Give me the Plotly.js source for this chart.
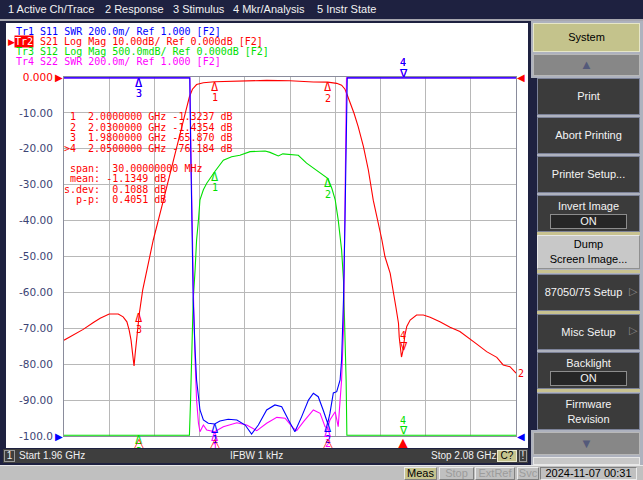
<!DOCTYPE html>
<html>
<head>
<meta charset="utf-8">
<script src="https://cdn.plot.ly/plotly-3.0.1.min.js"></script>
<style>
  body { margin:0; width:643px; height:480px; overflow:hidden; background:#c0c0c0;
         font-family:"Liberation Sans", Arial, sans-serif; font-size:11px; position:relative; }
  .a { position:absolute; box-sizing:border-box; }
  .top { z-index:2; }
  .hdr { color:#f2f2f2; font-size:11px; line-height:19px; top:0; }
  .btn { position:absolute; box-sizing:border-box; left:537px; width:103px; background:#3b3b3b; color:#f4f4f4;
         border:1px solid #7c8298; display:flex; flex-direction:column; align-items:center; justify-content:center;
         font-size:11px; line-height:15px; z-index:2; }
  .onbox { width:77px; height:15px; border:1px solid #8c8c8c; background:#262626; text-align:center; line-height:13px; box-sizing:border-box; }
  .sep { position:absolute; left:537px; width:103px; height:3px; background:#c8c290; z-index:2; }
  .arr { position:absolute; left:533px; width:107px; background:#878787; border:1px solid #b8b8b8; color:#545a7a;
         text-align:center; font-size:13px; box-sizing:border-box; z-index:2; }
  .stat { position:absolute; top:449px; height:13px; line-height:13px; color:#f0f0f0; font-size:10px; z-index:3; }
  .bb { position:absolute; top:467px; height:13px; line-height:11px; font-size:11px; text-align:center; box-sizing:border-box;
        border:1px solid; border-color:#ececec #808080 #808080 #ececec; color:#9c9c9c; z-index:2; }
</style>
</head>
<body>

<!-- chart window behind the plot -->
<div class="a" style="left:0;top:19px;width:531px;height:446px;background:#1e2140;"></div>
<div class="a" style="left:6px;top:23px;width:522px;height:425px;background:#ffffff;"></div>

<div id="plot" class="a" style="left:0;top:0;width:643px;height:480px;z-index:1;"></div>

<!-- top menu -->
<div class="a top" style="left:0;top:0;width:643px;height:19px;background:#1e2140;"></div>
<div class="a top" style="left:0;top:19px;width:643px;height:2px;background:#a8a8b0;"></div>
<div class="a top hdr" style="left:8px;">1 Active Ch/Trace</div>
<div class="a top hdr" style="left:105px;">2 Response</div>
<div class="a top hdr" style="left:173px;">3 Stimulus</div>
<div class="a top hdr" style="left:233px;">4 Mkr/Analysis</div>
<div class="a top hdr" style="left:317px;">5 Instr State</div>

<!-- status line of the window -->
<div class="a top" style="left:0;top:448px;width:531px;height:17px;background:#1e2140;"></div>
<div class="a top" style="left:3px;top:449px;width:525px;height:14px;background:#3e3e3e;"></div>
<div class="a" style="left:4px;top:450px;width:11px;height:12px;border:1px solid #9a9a9a;z-index:3;color:#f0f0f0;font-size:10px;line-height:10px;text-align:center;">1</div>
<div class="stat" style="left:19px;">Start 1.96 GHz</div>
<div class="stat" style="left:230px;">IFBW 1 kHz</div>
<div class="stat" style="left:431px;">Stop 2.08 GHz</div>
<div class="a" style="left:497px;top:450px;width:20px;height:12px;background:#c6c48e;border:1px solid #e8e8d0;z-index:3;font-size:10px;line-height:10px;text-align:center;color:#000;">C?</div>
<div class="a" style="left:519px;top:450px;width:8px;height:12px;border:1px solid #9a9a9a;z-index:3;font-size:10px;line-height:10px;text-align:center;color:#f0f0f0;">!</div>

<!-- bottom bar -->
<div class="a top" style="left:0;top:465px;width:643px;height:15px;background:#c0c0c0;border-top:1px solid #e8e8e8;"></div>
<div class="bb" style="left:404px;width:33px;background:#c6c48e;color:#000;">Meas</div>
<div class="bb" style="left:439px;width:35px;">Stop</div>
<div class="bb" style="left:475px;width:40px;">ExtRef</div>
<div class="bb" style="left:517px;width:22px;">Svc</div>
<div class="bb" style="left:540px;width:97px;color:#000;border-color:#808080 #ececec #ececec #808080;">2024-11-07 00:31</div>

<!-- soft key panel -->
<div class="a top" style="left:531px;top:21px;width:112px;height:444px;background:#aeb2be;"></div>
<div class="a top" style="left:533px;top:23px;width:107px;height:29px;background:#c4c38c;border:1px solid #e6e6c8;color:#000;text-align:center;line-height:27px;font-size:11px;">System</div>
<div class="arr" style="top:54px;height:22px;line-height:20px;">&#9650;</div>
<div class="a top" style="left:531px;top:78px;width:6px;height:352px;background:#1e2140;"></div>
<div class="btn" style="top:78px;height:37px;">Print</div>
<div class="btn" style="top:117px;height:37px;">Abort Printing</div>
<div class="btn" style="top:156px;height:37px;">Printer Setup...</div>
<div class="btn" style="top:195px;height:37px;"><div>Invert Image</div><div class="onbox">ON</div></div>
<div class="sep" style="top:232px;"></div>
<div class="btn" style="top:235px;height:34px;background:#c8c8c8;color:#000;border-color:#e8e8e8 #909090 #909090 #e8e8e8;"><div>Dump</div><div>Screen Image...</div></div>
<div class="sep" style="top:270px;"></div>
<div class="btn" style="top:274px;height:37px;"><div style="margin-right:10px;">87050/75 Setup</div></div>
<div class="a top" style="left:629px;top:285px;color:#8a8a8a;font-size:11px;">&#9655;</div>
<div class="sep" style="top:311px;"></div>
<div class="btn" style="top:314px;height:36px;">Misc Setup</div>
<div class="a top" style="left:629px;top:324px;color:#8a8a8a;font-size:11px;">&#9655;</div>
<div class="btn" style="top:352px;height:37px;"><div>Backlight</div><div class="onbox">ON</div></div>
<div class="sep" style="top:389px;"></div>
<div class="btn" style="top:393px;height:37px;"><div>Firmware</div><div>Revision</div></div>
<div class="arr" style="top:432px;height:23px;line-height:21px;">&#9660;</div>
<div class="a top" style="left:533px;top:457px;width:107px;height:8px;background:#c8c8c8;border:1px solid #e8e8e8;"></div>

<script>
// sweep 1.96 - 2.08 GHz
var s21Freq = [1.9600,1.9620,1.9651,1.9678,1.9696,1.9720,1.9744,1.9757,1.9767,1.9773,1.9778,1.9782,1.9786,1.9789,1.9793,1.9797,
  1.9800,1.9809,1.9818,1.9827,1.9837,1.9864,1.9877,1.9890,1.9901,1.9913,1.9924,1.9933,1.9941,1.9952,1.9970,2.0000,2.0032,2.0059,
  2.0085,2.0138,2.0200,2.0227,2.0262,2.0300,2.0324,2.0337,2.0346,2.0352,2.0361,2.0370,2.0381,2.0395,2.0408,2.0421,2.0444,2.0452,
  2.0466,2.0474,2.0481,2.0488,2.0490,2.0496,2.0500,2.0505,2.0510,2.0519,2.0536,2.0554,2.0572,2.0598,2.0625,2.0651,2.0673,2.0696,
  2.0722,2.0749,2.0766,2.0784,2.0800];
var s21Db = [-73.3,-72.1,-70.3,-68.4,-67.2,-66.0,-66.0,-66.8,-68.2,-70.5,-73.3,-77.0,-80.5,-77.0,-73.3,-68.5,
  -65.87,-59.3,-54.7,-50.0,-45.4,-34.3,-28.7,-23.1,-18.5,-13.8,-9.2,-5.5,-3.4,-2.1,-1.6,-1.32,-1.2,-1.03,
  -0.93,-0.93,-1.03,-1.2,-1.4,-1.44,-1.77,-2.3,-3.4,-5.0,-7.3,-10.1,-13.8,-19.4,-25.9,-34.3,-45.4,-50.0,
  -54.7,-59.3,-64.0,-68.6,-72.5,-78.0,-76.18,-72.0,-69.5,-67.7,-66.3,-66.3,-66.9,-68.2,-69.7,-70.9,-72.5,-74.4,
  -76.5,-78.1,-80.2,-80.7,-82.5];

var s12Freq = [1.9600,1.9933,1.9936,1.9940,1.9943,1.9948,1.9952,1.9957,1.9961,1.9970,1.9979,2.0000,2.0023,2.0045,2.0067,
  2.0094,2.0116,2.0134,2.0147,2.0169,2.0181,2.0200,2.0222,2.0244,2.0262,2.0280,2.0300,2.0311,2.0320,2.0328,2.0337,2.0342,
  2.0346,2.0349,2.0351,2.0800];
var s12Db = [-4.99,-4.99,-4.50,-3.80,-3.11,-2.69,-2.27,-1.99,-1.71,-1.57,-1.48,-1.32,-1.16,-1.11,-1.09,
  -1.04,-1.03,-1.03,-1.05,-1.10,-1.07,-1.08,-1.09,-1.20,-1.27,-1.34,-1.41,-1.55,-1.71,-1.99,-2.41,-2.83,
  -3.52,-4.22,-4.99,-4.99];

var s11Freq = [1.9600,1.9934,1.9936,1.9938,1.9940,1.9943,1.9948,1.9952,1.9957,1.9961,1.9970,1.9983,2.0000,2.0014,2.0036,
  2.0059,2.0081,2.0098,2.0116,2.0138,2.0160,2.0178,2.0196,2.0213,2.0231,2.0249,2.0262,2.0275,2.0288,2.0300,2.0306,2.0315,
  2.0324,2.0333,2.0337,2.0342,2.0346,2.0350,2.0352,2.0800];
var s11Swr = [2.995,2.995,2.65,2.31,2.09,1.76,1.48,1.31,1.22,1.145,1.089,1.071,1.067,1.084,1.093,
  1.089,1.061,1.011,1.061,1.145,1.173,1.163,1.089,1.024,1.108,1.20,1.238,1.219,1.145,1.071,1.126,1.24,
  1.247,1.312,1.423,1.758,2.20,2.65,2.995,2.995];

var s22Freq = [1.9600,1.9934,1.9937,1.9940,1.9944,1.9948,1.9952,1.9957,1.9961,1.9970,1.9979,2.0000,2.0023,2.0059,2.0085,
  2.0112,2.0138,2.0165,2.0187,2.0209,2.0218,2.0236,2.0262,2.0280,2.0293,2.0300,2.0306,2.0320,2.0328,2.0333,2.0337,2.0342,
  2.0345,2.0348,2.0350,2.0800];
var s22Swr = [2.995,2.995,2.59,2.15,1.758,1.423,1.20,1.071,1.024,1.061,1.033,1.024,1.052,1.074,1.061,
  1.030,1.071,1.104,1.099,1.043,1.030,1.080,1.145,1.126,1.052,1.045,1.089,1.135,1.052,1.20,1.312,1.59,
  2.04,2.54,2.995,2.995];

// markers (marker 4 is the active one)
var markerFreq = [2.00, 2.03, 1.98, 2.05];
var s21Mkr = [-1.3237, -1.4354, -65.870, -76.184];
var s12Mkr = [-1.32, -1.41, -4.99, -4.99];
var s11Mkr = [1.067, 1.071, 2.995, 2.995];
var s22Mkr = [1.024, 1.045, 2.995, 2.995];
var activeMkr = 3;

// marker statistics
var statSpanMHz = 30;
var statMean = -1.1349;
var statSdev = 0.1088;
var statPP = 0.4051;

var yTicks = [0, -10, -20, -30, -40, -50, -60, -70, -80, -90, -100];
var yTickText = ['0.000', '-10.00', '-20.00', '-30.00', '-40.00', '-50.00', '-60.00', '-70.00', '-80.00', '-90.00', '-100.0'];

var BLUE = '#0000ff', RED = '#ff0000', GREEN = '#00e000', MAG = '#ff00ff';
var MONO = '"DejaVu Sans Mono", monospace';

function nb(s) { return s.replace(/ /g, '\u00a0'); }
// pixel position -> paper coords (plot area 64..516 x 77..436)
function px(x) { return (x - 64) / 452; }
function py(y) { return (436 - y) / 359; }

var data = [
  {x: s22Freq, y: s22Swr, yaxis: 'y3', mode: 'lines', line: {color: MAG, width: 1.1}},
  {x: s12Freq, y: s12Db, yaxis: 'y2', mode: 'lines', line: {color: GREEN, width: 1.1}},
  {x: s11Freq, y: s11Swr, yaxis: 'y3', mode: 'lines', line: {color: BLUE, width: 1.1}},
  {x: s21Freq, y: s21Db, yaxis: 'y', mode: 'lines', line: {color: RED, width: 1.1}}
];

var ann = [];

function txt(x, y, s, color, opts) {
  var a = {xref: 'paper', yref: 'paper', x: px(x), y: py(y), text: nb(s), showarrow: false,
           xanchor: 'left', yanchor: 'middle', borderpad: 0,
           font: {family: MONO, size: 10, color: color}};
  for (var k in opts) a[k] = opts[k];
  ann.push(a);
}

// trace header
txt(15, 32, 'Tr1 S11 SWR 200.0m/ Ref 1.000 [F2]', BLUE);
txt(7, 42, '\u25B6', RED, {font: {family: 'DejaVu Sans', size: 9, color: RED}});
txt(14, 42, 'Tr2', '#ffffff', {bgcolor: RED});
txt(39, 42, 'S21 Log Mag 10.00dB/ Ref 0.000dB [F2]', RED);
txt(15, 52, 'Tr3 S12 Log Mag 500.0mdB/ Ref 0.000dB [F2]', GREEN);
txt(15, 62, 'Tr4 S22 SWR 200.0m/ Ref 1.000 [F2]', MAG);

// marker table
for (var i = 0; i < markerFreq.length; i++) {
  var lead = (i === activeMkr) ? '>' : ' ';
  txt(63, 116.5 + i * 10.5, lead + (i + 1) + '  ' + markerFreq[i].toFixed(7) + ' GHz ' +
      s21Mkr[i].toPrecision(5) + ' dB', RED);
}
txt(63, 168, ' span:  ' + statSpanMHz.toFixed(8) + ' MHz', RED);
txt(63, 178.5, ' mean: ' + statMean.toFixed(4) + ' dB', RED);
txt(63, 189, 's.dev:  ' + statSdev.toFixed(4) + ' dB', RED);
txt(63, 199.5, '  p-p:  ' + statPP.toFixed(4) + ' dB', RED);

// marker symbols on the traces
function addMarkers(yref, vals, color) {
  for (var i = 0; i < markerFreq.length; i++) {
    var act = (i === activeMkr);
    ann.push({xref: 'x', yref: yref, x: markerFreq[i], y: vals[i], text: act ? '\u2207' : '\u0394',
              showarrow: false, xanchor: 'center', yanchor: act ? 'bottom' : 'top', yshift: act ? -3 : 3,
              borderpad: 0, font: {family: MONO, size: 12, color: color}});
    ann.push({xref: 'x', yref: yref, x: markerFreq[i], y: vals[i], text: String(i + 1),
              showarrow: false, xanchor: 'center', yanchor: 'middle', yshift: act ? 15 : -16,
              borderpad: 0, font: {family: MONO, size: 10, color: color}});
  }
}
addMarkers('y3', s22Mkr, MAG);
addMarkers('y2', s12Mkr, GREEN);
addMarkers('y3', s11Mkr, BLUE);
addMarkers('y', s21Mkr, RED);

// stimulus marks of the active trace under the grid
for (var j = 0; j < markerFreq.length; j++) {
  ann.push({xref: 'x', yref: 'y', x: markerFreq[j], y: -100, text: j === activeMkr ? '\u25B2' : '\u25B3',
            showarrow: false, xanchor: 'center', yanchor: 'top', yshift: 2, borderpad: 0,
            font: {family: 'DejaVu Sans', size: 13, color: RED}});
}

// reference level arrows and trace end label
function refMark(xv, yv, yref, color, left) {
  ann.push({xref: 'x', yref: yref, x: xv, y: yv, text: left ? '\u25B6' : '\u25C0', showarrow: false,
            xanchor: left ? 'right' : 'left', yanchor: 'middle', borderpad: 0,
            font: {family: 'DejaVu Sans', size: 10, color: color}});
}
refMark(s21Freq[0], 0, 'y', RED, true);
refMark(s21Freq[s21Freq.length - 1], 0, 'y', RED, false);
refMark(s11Freq[0], 1, 'y3', BLUE, true);
refMark(s11Freq[s11Freq.length - 1], 1, 'y3', BLUE, false);
ann.push({xref: 'x', yref: 'y', x: s21Freq[s21Freq.length - 1], y: s21Db[s21Db.length - 1], text: '2',
          showarrow: false, xanchor: 'left', yanchor: 'middle', xshift: 1, borderpad: 0,
          font: {family: MONO, size: 10, color: RED}});

var tickText = yTickText.map(function (t, k) {
  return k === 0 ? '<span style="color:#ff0000">' + t + '</span>' : t;
});

var layout = {
  width: 643, height: 480,
  margin: {l: 64, r: 127, t: 77, b: 44, pad: 0},
  paper_bgcolor: 'rgba(0,0,0,0)',
  plot_bgcolor: 'rgba(0,0,0,0)',
  showlegend: false,
  xaxis: {range: [1.96, 2.08], dtick: 0.012, tick0: 1.96, showticklabels: false, ticks: '',
          showgrid: true, gridcolor: '#b8b8b8', gridwidth: 1, zeroline: false,
          showline: true, mirror: true, linecolor: '#8a8c9c', linewidth: 1},
  yaxis: {range: [-100, 0], tickvals: yTicks, ticktext: tickText, ticks: 'outside', ticklen: 8,
          tickcolor: 'rgba(0,0,0,0)', showgrid: true, gridcolor: '#b8b8b8', gridwidth: 1, zeroline: false,
          showline: true, mirror: true, linecolor: '#8a8c9c', linewidth: 1,
          tickfont: {family: '"DejaVu Sans", sans-serif', size: 10.5, color: '#3c4474'}},
  yaxis2: {overlaying: 'y', range: [-5, 0], visible: false},
  yaxis3: {overlaying: 'y', range: [1, 3], visible: false},
  annotations: ann
};

Plotly.newPlot('plot', data, layout, {displayModeBar: false, staticPlot: true});
</script>
</body>
</html>
